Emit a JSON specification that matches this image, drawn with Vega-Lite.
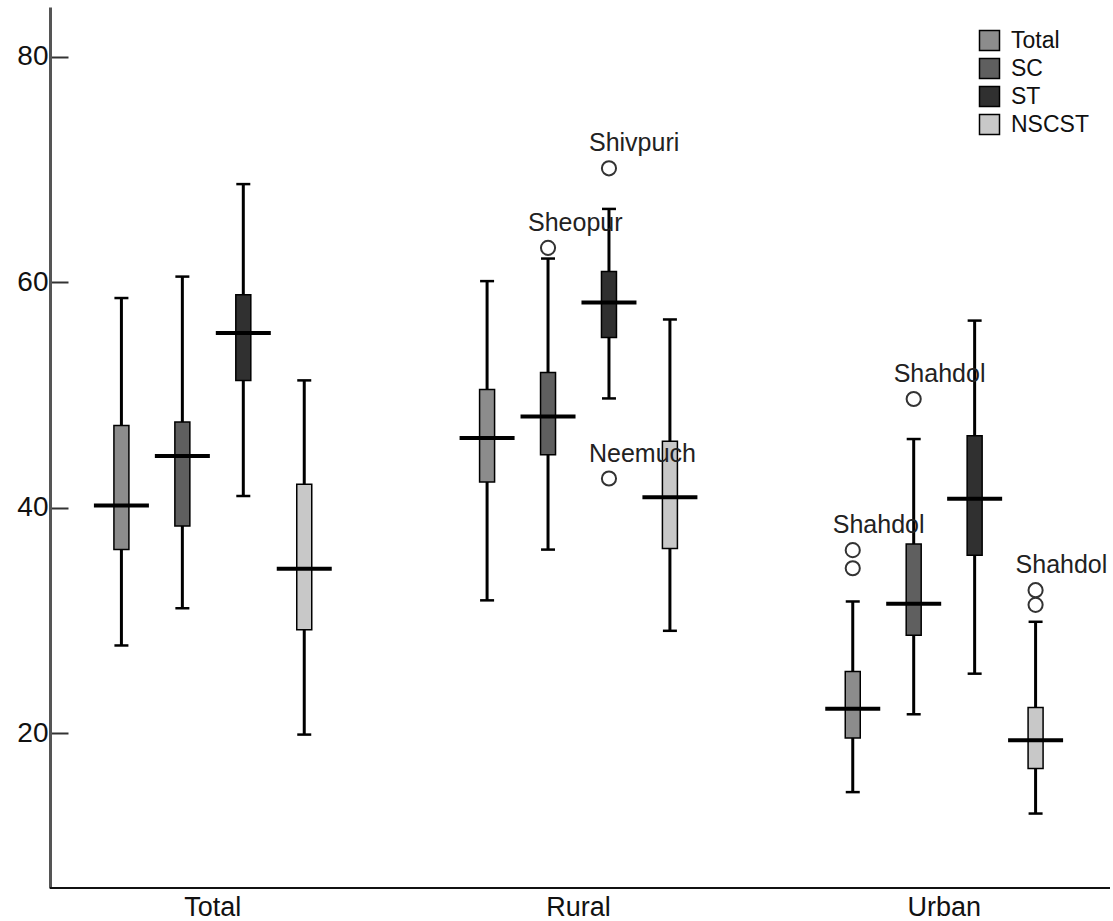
{
  "$schema": "https://vega.github.io/schema/vega-lite/v6.json",
  "autosize": "none",
  "width": 1060,
  "height": 881,
  "padding": {"left": 50, "top": 7, "right": 3, "bottom": 33},
  "background": "white",
  "config": {
    "font": "Liberation Sans",
    "view": {"stroke": null},
    "axis": {"grid": false, "labelFont": "Liberation Sans", "labelColor": "#111", "title": null}
  },
  "datasets": {
    "boxes": [
      {"area": "Total", "series": "Total", "lower": 27.8, "q1": 36.3, "median": 40.2, "q3": 47.3, "upper": 58.6},
      {"area": "Total", "series": "SC", "lower": 31.1, "q1": 38.4, "median": 44.6, "q3": 47.6, "upper": 60.5},
      {"area": "Total", "series": "ST", "lower": 41.05, "q1": 51.3, "median": 55.5, "q3": 58.9, "upper": 68.7},
      {"area": "Total", "series": "NSCST", "lower": 19.9, "q1": 29.2, "median": 34.6, "q3": 42.1, "upper": 51.3},
      {"area": "Rural", "series": "Total", "lower": 31.8, "q1": 42.3, "median": 46.2, "q3": 50.5, "upper": 60.1},
      {"area": "Rural", "series": "SC", "lower": 36.3, "q1": 44.7, "median": 48.1, "q3": 52.0, "upper": 62.1},
      {"area": "Rural", "series": "ST", "lower": 49.7, "q1": 55.1, "median": 58.2, "q3": 60.95, "upper": 66.5},
      {"area": "Rural", "series": "NSCST", "lower": 29.1, "q1": 36.4, "median": 40.95, "q3": 45.9, "upper": 56.7},
      {"area": "Urban", "series": "Total", "lower": 14.8, "q1": 19.6, "median": 22.2, "q3": 25.5, "upper": 31.7},
      {"area": "Urban", "series": "SC", "lower": 21.7, "q1": 28.7, "median": 31.5, "q3": 36.8, "upper": 46.1},
      {"area": "Urban", "series": "ST", "lower": 25.3, "q1": 35.8, "median": 40.8, "q3": 46.4, "upper": 56.6},
      {"area": "Urban", "series": "NSCST", "lower": 12.9, "q1": 16.9, "median": 19.4, "q3": 22.3, "upper": 29.9}
    ],
    "outliers": [
      {"area": "Rural", "series": "SC", "value": 63.05, "district": "Sheopur"},
      {"area": "Rural", "series": "ST", "value": 70.1, "district": "Shivpuri"},
      {"area": "Rural", "series": "ST", "value": 42.6, "district": "Neemuch"},
      {"area": "Urban", "series": "Total", "value": 36.25, "district": "Shahdol"},
      {"area": "Urban", "series": "Total", "value": 34.65, "district": ""},
      {"area": "Urban", "series": "SC", "value": 49.65, "district": "Shahdol"},
      {"area": "Urban", "series": "NSCST", "value": 32.7, "district": "Shahdol"},
      {"area": "Urban", "series": "NSCST", "value": 31.4, "district": ""}
    ]
  },
  "layer": [
    {
      "data": {"name": "boxes"},
      "mark": {"type": "rule", "color": "#000", "strokeWidth": 3},
      "encoding": {
        "x": {
          "field": "area",
          "type": "nominal",
          "sort": ["Total", "Rural", "Urban"],
          "scale": {"domain": ["Total", "Rural", "Urban"], "range": [-20, 1077], "paddingInner": 0, "paddingOuter": 0},
          "axis": {"domain": false, "ticks": false, "labelAngle": 0, "labelFontSize": 27, "labelPadding": 6, "labelColor": "#111"}
        },
        "xOffset": {
          "field": "series",
          "type": "nominal",
          "sort": ["Total", "SC", "ST", "NSCST"],
          "scale": {"domain": ["Total", "SC", "ST", "NSCST"], "paddingInner": 0, "paddingOuter": 1.29}
        },
        "y": {
          "field": "lower",
          "type": "quantitative",
          "scale": {"domain": [6.3, 84.4], "nice": false, "zero": false},
          "axis": {
            "values": [20, 40, 60, 80],
            "domainColor": "#555",
            "domainWidth": 3,
            "tickColor": "#333",
            "tickWidth": 2,
            "tickSize": -18,
            "labelFontSize": 28,
            "labelPadding": 20
          }
        },
        "y2": {"field": "upper"}
      }
    },
    {
      "data": {"name": "boxes"},
      "mark": {"type": "bar", "width": 15, "stroke": "#000", "strokeWidth": 1.5},
      "encoding": {
        "x": {"field": "area", "type": "nominal"},
        "xOffset": {"field": "series", "type": "nominal"},
        "y": {"field": "q1", "type": "quantitative"},
        "y2": {"field": "q3"},
        "color": {
          "field": "series",
          "type": "nominal",
          "scale": {"domain": ["Total", "SC", "ST", "NSCST"], "range": ["#8c8c8c", "#5f5f5f", "#303030", "#c8c8c8"]},
          "legend": {
            "title": null,
            "orient": "none",
            "legendX": 928,
            "legendY": 22,
            "symbolType": "square",
            "symbolSize": 400,
            "symbolStrokeColor": "#000",
            "symbolStrokeWidth": 1.5,
            "symbolOpacity": 1,
            "labelFontSize": 23,
            "labelColor": "#111",
            "labelOffset": 10,
            "rowPadding": 1
          }
        }
      }
    },
    {
      "data": {"name": "boxes"},
      "mark": {"type": "tick", "color": "#000", "size": 14, "thickness": 2.5, "opacity": 1},
      "encoding": {
        "x": {"field": "area", "type": "nominal"},
        "xOffset": {"field": "series", "type": "nominal"},
        "y": {"field": "upper", "type": "quantitative"}
      }
    },
    {
      "data": {"name": "boxes"},
      "mark": {"type": "tick", "color": "#000", "size": 14, "thickness": 2.5, "opacity": 1},
      "encoding": {
        "x": {"field": "area", "type": "nominal"},
        "xOffset": {"field": "series", "type": "nominal"},
        "y": {"field": "lower", "type": "quantitative"}
      }
    },
    {
      "data": {"name": "boxes"},
      "mark": {"type": "tick", "color": "#000", "size": 55, "thickness": 4, "opacity": 1},
      "encoding": {
        "x": {"field": "area", "type": "nominal"},
        "xOffset": {"field": "series", "type": "nominal"},
        "y": {"field": "median", "type": "quantitative"}
      }
    },
    {
      "data": {"name": "outliers"},
      "mark": {"type": "point", "shape": "circle", "filled": false, "size": 200, "stroke": "#333", "strokeWidth": 2, "opacity": 1},
      "encoding": {
        "x": {"field": "area", "type": "nominal"},
        "xOffset": {"field": "series", "type": "nominal"},
        "y": {"field": "value", "type": "quantitative"}
      }
    },
    {
      "data": {"name": "outliers"},
      "mark": {"type": "text", "align": "left", "baseline": "alphabetic", "dx": -20, "dy": -17, "fontSize": 25, "color": "#222"},
      "encoding": {
        "x": {"field": "area", "type": "nominal"},
        "xOffset": {"field": "series", "type": "nominal"},
        "y": {"field": "value", "type": "quantitative"},
        "text": {"field": "district"}
      }
    },
    {
      "data": {"values": [{}]},
      "mark": {"type": "rule", "color": "#111", "strokeWidth": 2},
      "encoding": {"y": {"datum": 6.3}}
    }
  ]
}
